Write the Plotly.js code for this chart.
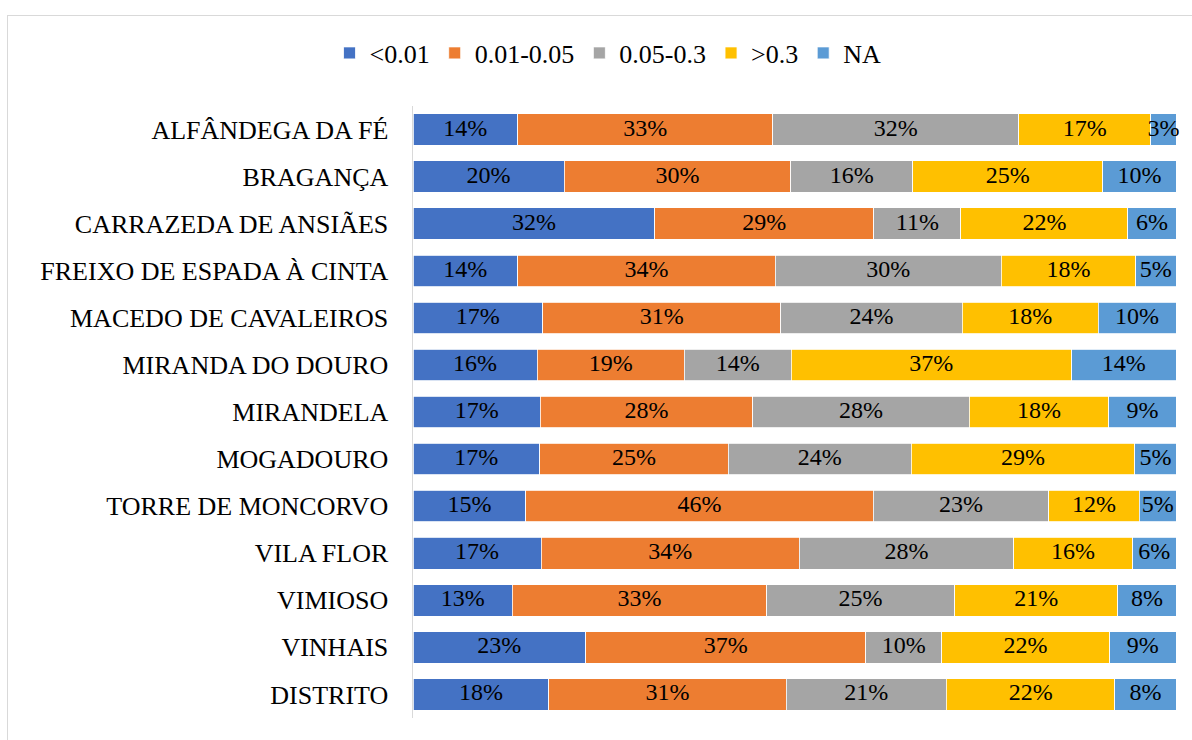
<!DOCTYPE html>
<html>
<head>
<meta charset="utf-8">
<script src="https://cdn.plot.ly/plotly-3.0.1.min.js"></script>
<style>
  html, body { margin: 0; padding: 0; background: #fff; overflow: hidden; }
  #chart { width: 1192px; height: 740px; position: absolute; left: 0; top: 0; }
  #frame { position: absolute; left: 7px; top: 15px; width: 1200px; height: 740px;
           border: 1.5px solid #d9d9d9; pointer-events: none; }
</style>
</head>
<body>
<div id="chart"></div>
<div id="frame"></div>
<script>
const categories = [
  "ALFÂNDEGA DA FÉ", "BRAGANÇA", "CARRAZEDA DE ANSIÃES", "FREIXO DE ESPADA À CINTA",
  "MACEDO DE CAVALEIROS", "MIRANDA DO DOURO", "MIRANDELA", "MOGADOURO",
  "TORRE DE MONCORVO", "VILA FLOR", "VIMIOSO", "VINHAIS", "DISTRITO"
];
const seriesNames = ["<0.01", "0.01-0.05", "0.05-0.3", ">0.3", "NA"];
const lt001    = [13.7, 19.8, 31.7, 13.7, 17.0, 16.3, 16.7, 16.6, 14.8, 16.8, 13.0, 22.6, 17.8];
const v001_005 = [33.4, 29.7, 28.7, 33.8, 31.2, 19.3, 27.8, 24.7, 45.6, 33.9, 33.3, 36.7, 31.1];
const v005_03  = [32.2, 16.0, 11.4, 29.6, 23.8, 14.0, 28.4, 24.0, 23.0, 28.1, 24.6, 9.9, 21.0];
const gt03     = [17.3, 24.9, 21.9, 17.6, 17.8, 36.8, 18.3, 29.3, 11.9, 15.6, 21.4, 22.0, 22.1];
const na       = [3.3, 9.6, 6.3, 5.3, 10.2, 13.7, 8.8, 5.4, 4.8, 5.7, 7.6, 8.7, 8.0];
const colors = ["#4472C4", "#ED7D31", "#A5A5A5", "#FFC000", "#5B9BD5"];

const seriesValues = [lt001, v001_005, v005_03, gt03, na];
const fontFam = '"Liberation Serif", "Times New Roman", Times, serif';

// normalise each category row to 100 %
const totals = categories.map((c, j) => seriesValues.reduce((s, arr) => s + arr[j], 0));
const shares = seriesValues.map(arr => arr.map((v, j) => v / totals[j] * 100));

const barTraces = shares.map((vals, i) => ({
  type: 'bar',
  orientation: 'h',
  name: seriesNames[i],
  y: categories,
  x: vals,
  marker: { color: colors[i], line: { color: '#ffffff', width: 0.8 } },
  hoverinfo: 'name+x'
}));

// data labels centred in each segment
const labelX = [], labelY = [], labelT = [];
categories.forEach((c, j) => {
  let cum = 0;
  shares.forEach((arr, i) => {
    labelX.push(cum + arr[j] / 2);
    labelY.push(c);
    labelT.push(Math.round(seriesValues[i][j]) + '%');
    cum += arr[j];
  });
});
const labelTrace = {
  type: 'scatter', mode: 'text',
  x: labelX, y: labelY, text: labelT,
  textposition: 'middle center',
  textfont: { family: fontFam, size: 24, color: '#000' },
  cliponaxis: false, showlegend: false, hoverinfo: 'skip'
};

const layout = {
  width: 1192, height: 740,
  margin: { l: 413, r: 16, t: 106, b: 22, pad: 0 },
  paper_bgcolor: '#fff', plot_bgcolor: '#fff',
  barmode: 'stack',
  bargap: 0.33,
  showlegend: true,
  legend: {
    orientation: 'h', traceorder: 'normal',
    x: 0.2556, xanchor: 'center', y: 1.0866, yanchor: 'middle',
    font: { family: fontFam, size: 26, color: '#000' },
    itemwidth: 30
  },
  xaxis: {
    range: [0, 100], showgrid: false, zeroline: false, showticklabels: false,
    showline: false, ticks: '', fixedrange: true
  },
  yaxis: {
    type: 'category', range: [categories.length - 0.5, -0.5], autorange: false,
    categoryorder: 'array', categoryarray: categories,
    showgrid: false, zeroline: false, showline: true, linecolor: '#d9d9d9', linewidth: 1.5,
    ticks: '', ticklabelstandoff: 18,
    tickfont: { family: fontFam, size: 26, color: '#000' }
  },
  font: { family: fontFam }
};

Plotly.newPlot('chart', barTraces.concat([labelTrace]), layout, { displayModeBar: false, staticPlot: true });
</script>
</body>
</html>
